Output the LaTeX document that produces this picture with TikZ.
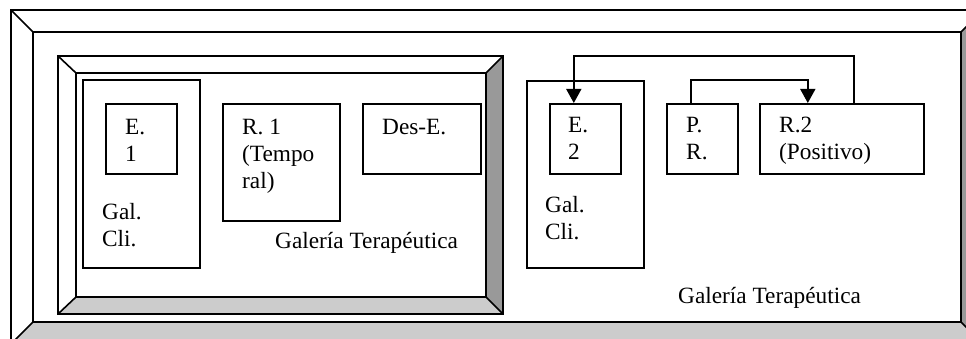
\documentclass[tikz,border=0pt]{standalone}
\usepackage{fontspec}
\setmainfont{Liberation Serif}
\usepackage{xcolor}
\usepackage{tikz}
\usetikzlibrary{arrows.meta, positioning}

\begin{document}
\begin{tikzpicture}[
        x=1pt, y=-1pt,
        frameline/.style={line width=1.6pt, line join=miter},
        bevellight/.style={fill=black!20},
        beveldark/.style={fill=black!40},
        box/.style={
            rectangle, draw, line width=1.6pt,
            anchor=north west, inner sep=0pt
        },
        lbl/.style={
            font=\fontsize{23.3}{27}\selectfont,
            align=left, inner sep=0pt, anchor=base west
        },
        conn/.style={line width=1.6pt, -{Triangle[length=14pt, width=15pt]}}
    ]
        \useasboundingbox (0,0) rectangle (966,339);
        \clip (0,0) rectangle (966,339);
        \fill[white] (0,0) rectangle (966,339);

        % outer frame
        \path[beveldark] (983,10) -- (961,32) -- (961,322) -- (983,344) -- cycle;
        \path[bevellight] (11,344) -- (33,322) -- (961,322) -- (983,344) -- cycle;
        \draw[frameline] (11,10) rectangle (983,344);
        \draw[frameline] (33,32) rectangle (961,322);
        \draw[frameline] (11,10) -- (33,32);
        \draw[frameline] (983,10) -- (961,32);
        \draw[frameline] (11,344) -- (33,322);
        \draw[frameline] (983,344) -- (961,322);

        % inner frame
        \path[beveldark] (503,56) -- (486,73) -- (486,297) -- (503,314) -- cycle;
        \path[bevellight] (58,314) -- (76,297) -- (486,297) -- (503,314) -- cycle;
        \draw[frameline] (58,56) rectangle (503,314);
        \draw[frameline] (76,73) rectangle (486,297);
        \draw[frameline] (58,56) -- (76,73);
        \draw[frameline] (503,56) -- (486,73);
        \draw[frameline] (58,314) -- (76,297);
        \draw[frameline] (503,314) -- (486,297);

        \node[box, minimum width=117pt, minimum height=188pt] (galcli1) at (82,79) {};
        \node[box, minimum width=71pt, minimum height=70pt] (e1) at (105,103) {};
        \node[box, minimum width=117pt, minimum height=117pt] (r1) at (222,103) {};
        \node[box, minimum width=118pt, minimum height=70pt] (dese) at (362,103) {};

        \node[box, minimum width=117pt, minimum height=187pt] (galcli2) at (526,80) {};
        \node[box, minimum width=71pt, minimum height=70pt] (e2) at (549,103) {};
        \node[box, minimum width=71pt, minimum height=70pt] (pr) at (666,103) {};
        \node[box, minimum width=164pt, minimum height=70pt] (r2) at (759,103) {};

        % base anchor sits on the last line
        \node[lbl] (e1txt) at (125,162) {E.\\1};
        \node[lbl] (galcli1txt) at (102,246) {Gal.\\Cli.};
        \node[lbl] (r1txt) at (242,189) {R. 1\\(Tempo\\ral)};
        \node[lbl] (desetxt) at (382,135) {Des-E.};
        \node[lbl] (galter1) at (275,248) {Galería Terapéutica};

        \node[lbl] (e2txt) at (568,160) {E.\\2};
        \node[lbl] (galcli2txt) at (545,239) {Gal.\\Cli.};
        \node[lbl] (prtxt) at (686,160) {P.\\R.};
        \node[lbl] (r2txt) at (779,160) {R.2\\(Positivo)};
        \node[lbl] (galter2) at (678,303) {Galería Terapéutica};

        \draw[conn] ([xshift=12pt]r2.north) -- ++(0,-47) -| ([xshift=-11.5pt]e2.north);
        \draw[conn] ([xshift=-11.5pt]pr.north) -- ++(0,-23) -| ([xshift=-34pt]r2.north);
    \end{tikzpicture}
\end{document}
